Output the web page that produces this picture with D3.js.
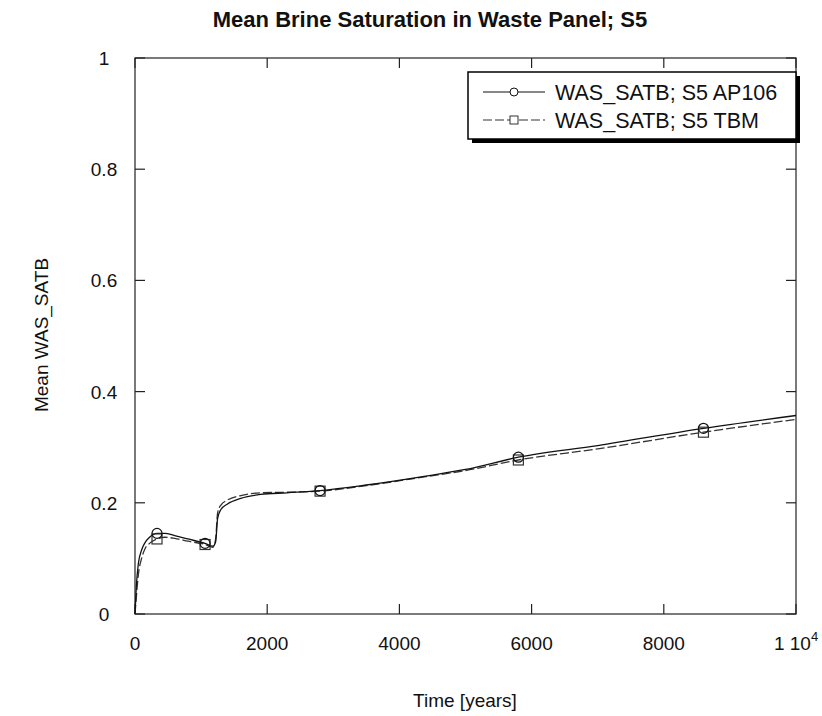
<!DOCTYPE html>
<html>
<head>
<meta charset="utf-8">
<script src="https://cdn.jsdelivr.net/npm/d3@7"></script>
<style>
  html, body { margin: 0; padding: 0; background: #fff; }
  svg { display: block; font-family: "Liberation Sans", Arial, sans-serif; }
</style>
</head>
<body>
<svg id="chart" width="822" height="716"></svg>
<script>
// ---- data ----
const chartTitle = "Mean Brine Saturation in Waste Panel; S5";
const xLabel = "Time [years]";
const yLabel = "Mean WAS_SATB";
const seriesNames = ["WAS_SATB; S5 AP106", "WAS_SATB; S5 TBM"];

const timeYears = [0, 20, 50, 100, 150, 220, 333, 450, 600, 800, 1060, 1180, 1220, 1250, 1300, 1400, 1600, 1900, 2300, 2800, 3500, 4400, 5000, 5800, 7000, 8600, 10000];
const satAP106  = [0, 0.050, 0.090, 0.115, 0.128, 0.138, 0.145, 0.145, 0.141, 0.135, 0.127, 0.122, 0.130, 0.172, 0.188, 0.198, 0.208, 0.215, 0.218, 0.222, 0.232, 0.248, 0.260, 0.282, 0.303, 0.334, 0.357];
const satTBM    = [0, 0.030, 0.070, 0.100, 0.117, 0.127, 0.135, 0.138, 0.136, 0.131, 0.125, 0.120, 0.135, 0.182, 0.196, 0.205, 0.213, 0.218, 0.219, 0.221, 0.231, 0.247, 0.258, 0.277, 0.297, 0.327, 0.350];
const markerTimes = [333, 1060, 2800, 5800, 8600];

const xTicks = [0, 2000, 4000, 6000, 8000, 10000];
const xTickLabels = ["0", "2000", "4000", "6000", "8000", "1 10"];
const yTicks = [0, 0.2, 0.4, 0.6, 0.8, 1];
const yTickLabels = ["0", "0.2", "0.4", "0.6", "0.8", "1"];

// ---- layout ----
const svg = d3.select("#chart");
const L = 135, R = 796, T = 58, B = 614;
const x = d3.scaleLinear().domain([0, 10000]).range([L, R]);
const y = d3.scaleLinear().domain([0, 1]).range([B, T]);
const ink = "#111";

// frame
svg.append("rect").attr("x", L).attr("y", T).attr("width", R - L).attr("height", B - T)
  .attr("fill", "none").attr("stroke", "#222").attr("stroke-width", 1.2);

// ticks (inward, all four sides)
const tl = 10;
const g = svg.append("g").attr("stroke", "#222").attr("stroke-width", 1.2);
xTicks.forEach(t => {
  g.append("line").attr("x1", x(t)).attr("x2", x(t)).attr("y1", B).attr("y2", B - tl);
  g.append("line").attr("x1", x(t)).attr("x2", x(t)).attr("y1", T).attr("y2", T + tl);
});
yTicks.forEach(v => {
  g.append("line").attr("x1", L).attr("x2", L + tl).attr("y1", y(v)).attr("y2", y(v));
  g.append("line").attr("x1", R).attr("x2", R - tl).attr("y1", y(v)).attr("y2", y(v));
});

// tick labels
const fs = 19;
xTicks.forEach((t, i) => {
  const txt = svg.append("text").attr("x", x(t)).attr("y", B + 36)
    .attr("text-anchor", "middle").attr("font-size", fs).attr("fill", ink)
    .text(xTickLabels[i]);
  if (i === xTicks.length - 1) {
    txt.append("tspan").attr("font-size", 13).attr("dy", -9).text("4");
  }
});
yTicks.forEach((v, i) => {
  svg.append("text").attr("x", 104).attr("y", y(v) + 7)
    .attr("text-anchor", "middle").attr("font-size", fs).attr("fill", ink)
    .text(yTickLabels[i]);
});

// axis labels
svg.append("text").attr("x", 465).attr("y", 707).attr("text-anchor", "middle")
  .attr("font-size", 19).attr("fill", ink).text(xLabel);
svg.append("text").attr("transform", "translate(48,335) rotate(-90)").attr("text-anchor", "middle")
  .attr("font-size", 19).attr("fill", ink).text(yLabel);

// title
svg.append("text").attr("x", 430).attr("y", 27).attr("text-anchor", "middle")
  .attr("font-size", 22).attr("font-weight", "bold").attr("fill", ink).text(chartTitle);

// lines
const data1 = timeYears.map((t, i) => ({ t, v: satAP106[i] }));
const data2 = timeYears.map((t, i) => ({ t, v: satTBM[i] }));
const line = d3.line().x(d => x(d.t)).y(d => y(d.v)).curve(d3.curveMonotoneX);

svg.append("path").datum(data2).attr("d", line).attr("fill", "none")
  .attr("stroke", "#333").attr("stroke-width", 1.3).attr("stroke-dasharray", "9,3");
svg.append("path").datum(data1).attr("d", line).attr("fill", "none")
  .attr("stroke", ink).attr("stroke-width", 1.3);

// markers
const m1 = data1.filter(d => markerTimes.includes(d.t));
const m2 = data2.filter(d => markerTimes.includes(d.t));
svg.append("g").selectAll("rect").data(m2).join("rect")
  .attr("x", d => x(d.t) - 5).attr("y", d => y(d.v) - 5).attr("width", 10).attr("height", 10)
  .attr("fill", "none").attr("stroke", "#333").attr("stroke-width", 1.2);
svg.append("g").selectAll("circle").data(m1).join("circle")
  .attr("cx", d => x(d.t)).attr("cy", d => y(d.v)).attr("r", 5)
  .attr("fill", "none").attr("stroke", ink).attr("stroke-width", 1.2);

// legend
const lx = 468, ly = 72, lw = 328, lh = 67;
svg.append("rect").attr("x", lx + 4).attr("y", ly + 4).attr("width", lw).attr("height", lh).attr("fill", "#000");
svg.append("rect").attr("x", lx).attr("y", ly).attr("width", lw).attr("height", lh)
  .attr("fill", "#fff").attr("stroke", "#000").attr("stroke-width", 1.5);
const rows = [92, 120];
// row 1
svg.append("line").attr("x1", 483).attr("x2", 545).attr("y1", rows[0]).attr("y2", rows[0])
  .attr("stroke", ink).attr("stroke-width", 1.2);
svg.append("circle").attr("cx", 514).attr("cy", rows[0]).attr("r", 4)
  .attr("fill", "#fff").attr("stroke", ink).attr("stroke-width", 1);
// row 2
svg.append("line").attr("x1", 483).attr("x2", 545).attr("y1", rows[1]).attr("y2", rows[1])
  .attr("stroke", "#333").attr("stroke-width", 1.2).attr("stroke-dasharray", "9,3");
svg.append("rect").attr("x", 510).attr("y", rows[1] - 4).attr("width", 8).attr("height", 8)
  .attr("fill", "#fff").attr("stroke", "#333").attr("stroke-width", 1);
seriesNames.forEach((n, i) => {
  svg.append("text").attr("x", 555).attr("y", rows[i] + 8).attr("font-size", 21.5)
    .attr("fill", ink).text(n);
});
</script>
</body>
</html>
